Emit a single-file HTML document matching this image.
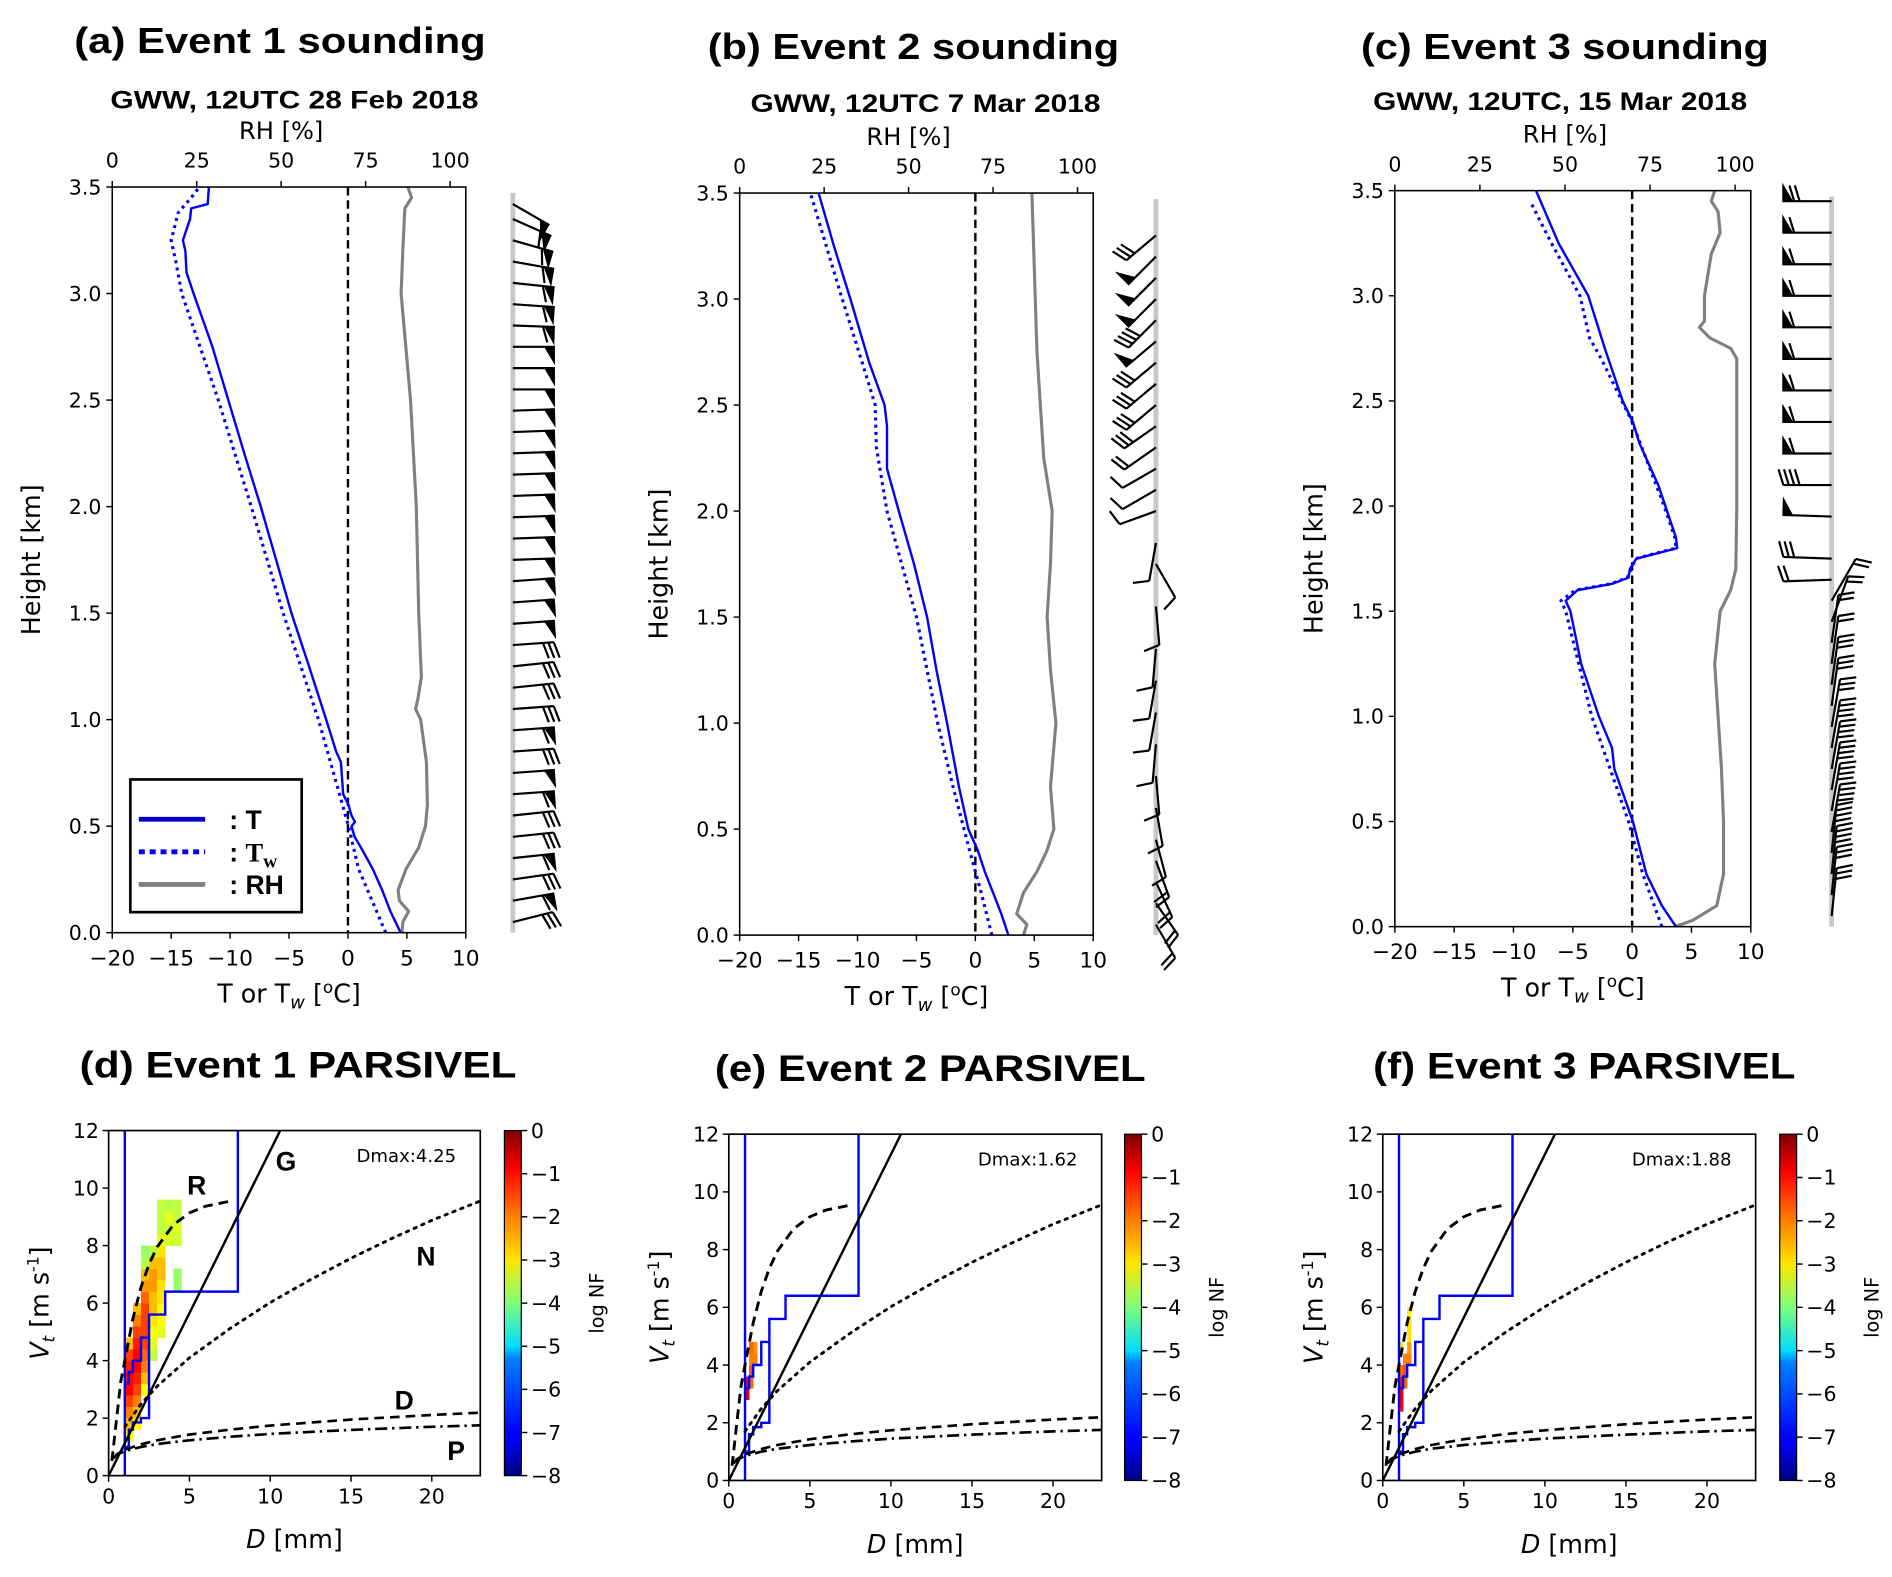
<!DOCTYPE html>
<html><head><meta charset="utf-8"><style>
html,body{margin:0;padding:0;background:#fff;}
svg{display:block;}
text{font-family:"DejaVu Sans","Liberation Sans",sans-serif;fill:#000;}
.ttl{font-family:"Liberation Sans",Arial,sans-serif;font-weight:bold;}
</style></head>
<body>
<svg id="chart" xmlns="http://www.w3.org/2000/svg" width="1892" height="1577" viewBox="0 0 1568 1307">
<defs>
<linearGradient id="jet" x1="0" y1="1" x2="0" y2="0">
<stop offset="0" stop-color="#00007f"/><stop offset="0.11" stop-color="#0000ff"/><stop offset="0.125" stop-color="#0000ff"/>
<stop offset="0.34" stop-color="#0080ff"/><stop offset="0.375" stop-color="#00dcff"/><stop offset="0.5" stop-color="#7dff7a"/>
<stop offset="0.625" stop-color="#ffe600"/><stop offset="0.75" stop-color="#ff8000"/><stop offset="0.89" stop-color="#ff0000"/><stop offset="1" stop-color="#7f0000"/>
</linearGradient>
</defs>
</svg>
<script>
// ---------- Sounding data (a) ----------
const aT_h=[0,0.1,0.2,0.3,0.4,0.45,0.5,0.52,0.55,0.6,0.65,0.8,0.85,1.0,1.25,1.5,1.75,2.0,2.25,2.5,2.75,3.0,3.1,3.2,3.25,3.3,3.35,3.4,3.42,3.5];
const aT=[4.47,3.6,2.9,2.1,1.1,0.56,0.3,0.6,0.3,0.05,-0.4,-0.6,-1.0,-1.85,-3.3,-4.8,-6.1,-7.4,-8.8,-10.15,-11.5,-13.1,-13.7,-13.8,-14.0,-13.7,-13.4,-13.3,-11.9,-11.8];
const aTw_h=[0,0.3,0.5,1.0,1.5,2.0,2.5,3.0,3.15,3.25,3.38,3.45,3.5];
const aTw=[3.2,0.9,0.05,-2.5,-5.5,-8.2,-11.0,-14.1,-14.6,-15.0,-14.4,-13.3,-12.6];
const aRH_h=[0,0.05,0.1,0.15,0.2,0.3,0.4,0.5,0.6,0.8,1.0,1.05,1.1,1.2,1.5,2.0,2.5,3.0,3.2,3.4,3.45,3.5];
const aRH=[85.8,86,87.7,85,84.6,87,90.7,92.7,93.3,93,91.3,89.8,90.5,91.5,90.7,90,88.3,85.5,86,86.6,88.6,87.5];
// ---------- Sounding data (b) ----------
const bT_h=[0,0.1,0.2,0.3,0.4,0.5,0.7,1.0,1.25,1.5,1.75,2.0,2.2,2.4,2.5,2.7,3.0,3.25,3.5];
const bT=[2.8,2.2,1.5,0.8,0.2,-0.6,-1.4,-2.4,-3.3,-4.1,-5.2,-6.5,-7.5,-7.5,-7.7,-9.0,-10.6,-12.0,-13.3];
const bTw_h=[0,0.2,0.4,0.7,1.0,1.5,2.0,2.3,2.5,2.7,3.0,3.5];
const bTw=[1.4,0.5,-0.5,-1.9,-3.2,-5.0,-7.5,-8.4,-8.5,-9.6,-11.3,-14.0];
const bRH_h=[0,0.05,0.1,0.2,0.3,0.4,0.5,0.7,1.0,1.25,1.5,1.75,2.0,2.25,2.5,2.75,3.0,3.25,3.5];
const bRH=[84,85,82,84,88,91,93,92,93.6,92,91,92,92.5,90,89,88,87.5,87,86.5];
// ---------- Sounding data (c) ----------
const cT_h=[0,0.1,0.25,0.5,0.75,0.85,1.0,1.1,1.25,1.5,1.55,1.6,1.63,1.66,1.7,1.75,1.78,1.8,1.85,2.0,2.1,2.2,2.3,2.4,2.5,2.75,3.0,3.25,3.5];
const cT=[3.7,2.5,1.2,0.06,-1.5,-1.7,-2.8,-3.4,-4.3,-5.2,-5.6,-4.6,-1.7,-0.3,-0.2,0.35,2.4,3.8,3.7,2.8,2.2,1.4,0.6,0.06,-0.8,-2.3,-3.7,-6.2,-8.1];
const cTw_h=[0,0.25,0.5,1.0,1.5,1.55,1.6,1.63,1.66,1.75,1.78,1.8,1.85,2.0,2.4,2.7,2.8,3.0,3.25,3.45];
const cTw=[2.5,0.9,-0.3,-3.4,-5.6,-6.0,-4.8,-1.8,-0.4,0.3,2.3,3.7,3.6,2.7,0,-2.6,-3.6,-4.4,-6.8,-8.6];
const cRH_h=[0,0.03,0.1,0.25,0.5,0.75,1.0,1.25,1.5,1.6,1.7,2.0,2.7,2.75,2.8,2.85,2.88,3.0,3.2,3.3,3.4,3.45,3.5];
const cRH=[82.4,87.5,94.6,96.6,96.6,96,95,94,95.6,98.7,100.2,100.5,100.5,98.7,92.6,89.5,91,91,93,95.6,95,93,94];
// ---------- Wind barbs (height km, staff angle deg, flags, full barbs) ----------
const aBarbH=[0.05,0.15,0.25,0.35,0.45,0.55,0.65,0.75,0.85,0.95,1.05,1.15,1.25,1.35,1.45,1.55,1.65,1.75,1.85,1.95,2.05,2.15,2.25,2.35,2.45,2.55,2.65,2.75,2.85,2.95,3.05,3.15,3.25,3.35,3.42];
const aBarbA=[-14,-10,-8,-6,-6,-6,-4,-4,-4,-4,-4,-6,-6,-4,-4,-4,-4,-2,-2,-2,-2,-2,-2,-2,-2,0,0,0,2,4,6,10,16,24,30];
const aBarbF=[0,1,0,1,0,0,1,1,0,1,0,0,0,0,1,1,1,1,1,1,1,1,1,1,1,1,1,1,1,1,1,1,1,1,1];
const aBarbB=[3,1,3,1,3,3,1,0,3,1,3,3,3,3,0,0,0,0,0,0,0,0,0,0,0,0,0,0,1,1,1,1,1,1,0];
const bBarbH=[0.05,0.15,0.25,0.35,0.45,0.6,0.75,0.9,1.05,1.2,1.35,1.55,1.75,1.85,2.0,2.1,2.2,2.3,2.4,2.5,2.6,2.7,2.8,2.9,3.0,3.1,3.2,3.3];
const bBarbA=[60,55,65,70,75,80,85,95,100,100,95,85,60,100,160,150,150,145,145,140,140,140,140,135,135,135,135,140];
const bBarbF=[0,0,0,0,0,0,0,0,0,0,0,0,0,0,0,0,0,0,0,0,0,0,1,0,1,1,1,0];
const bBarbB=[2,2,2,2,1,1,1,1,1,1,1,1,1,1,1,1,1,2,3,3,3,3,0,4,0,0,0,3];
const cBarbH=[0.05,0.15,0.25,0.35,0.45,0.55,0.65,0.75,0.85,0.95,1.05,1.15,1.25,1.35,1.45,1.55,1.65,1.75,1.95,2.1,2.25,2.4,2.55,2.7,2.85,3.0,3.15,3.3,3.45];
const cBarbA=[-84,-84,-84,-84,-80,-80,-80,-80,-80,-80,-82,-82,-82,-82,-70,-60,178,182,182,180,180,180,180,180,180,180,180,180,180];
const cBarbF=[0,0,0,0,0,0,0,0,0,0,0,0,0,0,0,0,0,0,1,0,1,1,1,1,1,1,1,1,1];
const cBarbB=[3,3,4,4,4,4,4,4,4,3,3,3,2,2,2,2,2,3,0,4,1,1,1,1,1,1,1,1,2];
// ---------- PARSIVEL reference curves (D mm, Vt m/s) ----------
const gD=[0,10.62], gV=[0,12];
const rD=[0.2,0.5,0.75,1,1.5,2,2.5,3,4,5,6,7.5], rV=[0.51,2.02,3.26,4.0,5.46,6.55,7.35,7.95,8.72,9.14,9.37,9.54];
const nD=[1,2,3,5,7.5,10,12.5,15,17.5,20,23], nV=[1.7,2.49,3.11,4.1,5.11,6.02,6.82,7.56,8.24,8.88,9.55];
const dD=[0.3,0.5,1,2,3,5,7.5,10,15,20,23], dV=[0.6,0.74,0.9,1.09,1.23,1.43,1.6,1.74,1.95,2.11,2.19];
const pD=[0.3,0.5,1,2,3,5,7.5,10,15,20,23], pV=[0.6,0.72,0.85,1.0,1.1,1.23,1.35,1.45,1.59,1.7,1.75];
const boxUpD=[8,8,3.5,3.5,2.5,2.5,2.0,2.0,1.5,1.5,1.25,1.25,1.0], boxUpV=[12,6.4,6.4,5.6,5.6,4.8,4.8,4.0,4.0,3.6,3.6,3.2,3.2];
const boxLoD=[1.0,1.25,1.25,1.5,1.5,2.0,2.0,2.5,2.5], boxLoV=[1.0,1.0,1.6,1.6,1.85,1.85,2.0,2.0,4.8];
// ---------- PARSIVEL cells (left D, bottom Vt, log NF) ----------
const dCellD=[1,1,1,1,1,1,1,1,1, 1.5,1.5,1.5,1.5,1.5,1.5,1.5,1.5,1.5,1.5,1.5, 2,2,2,2,2,2,2,2,2,2,2,2,2, 2.5,2.5,2.5,2.5,2.5,2.5,2.5,2.5,2.5,2.5, 3,3,3,3,3,3,3,3,3,3,3,3, 3.5,3.5,3.5,3.5, 4,4,4,4,4,4];
const dCellV=[1.2,1.6,2.0,2.4,2.8,3.2,3.6,4.0,4.4, 1.6,2.0,2.4,2.8,3.2,3.6,4.0,4.4,4.8,5.2,5.6, 2.8,3.2,3.6,4.0,4.4,4.8,5.2,5.6,6.0,6.4,6.8,7.2,7.6, 4.0,4.4,4.8,5.2,5.6,6.0,6.4,6.8,7.2,7.6, 4.8,5.2,5.6,6.0,6.4,6.8,7.2,7.6,8.0,8.4,8.8,9.2, 8.0,8.4,8.8,9.2, 6.4,6.8,8.0,8.4,8.8,9.2];
const dCellZ=[-3,-2.5,-2,-1.5,-1,-1,-1.2,-1.5,-2.5, -3,-2.5,-2,-1.5,-1.2,-1,-1,-1.2,-1.5,-2,-2.5, -3,-2.5,-2,-1.8,-1.5,-1.5,-1.5,-1.5,-1.8,-2.2,-2.5,-3.6,-3.8, -3.5,-3.2,-3,-2.8,-2.5,-2.5,-2.2,-2.2,-2.5,-3.5, -3.2,-3,-3,-2.8,-2.8,-2.5,-2.5,-2.8,-3.2,-3.5,-3.5,-3.5, -3.3,-3.4,-3.2,-3.6, -3.8,-3.8,-3.4,-3.3,-3.5,-3.5];
const eCellD=[1.0,1.0,1.25,1.25,1.25,1.5,1.5,1.25];
const eCellV=[2.8,3.2,3.2,3.6,4.0,4.0,4.4,4.4];
const eCellZ=[-0.8,-1.0,-1.8,-1.6,-2.0,-2.0,-2.2,-1.8];
const fCellD=[1.0,1.0,1.0,1.0,1.25,1.25,1.25,1.5,1.5,1.5,1.5,1.5,1.0];
const fCellV=[2.4,2.8,3.2,3.6,3.2,3.6,4.0,4.0,4.4,4.8,5.2,5.6,4.4];
const fCellZ=[-1.0,-0.9,-1.2,-1.8,-1.8,-1.6,-2.0,-2.0,-2.2,-2.8,-2.8,-2.9,-2.8];
const tTicks=[-20,-15,-10,-5,0,5,10];
const rhTicks=[0,25,50,75,100];
const hTicks=[0,0.5,1.0,1.5,2.0,2.5,3.0,3.5];
const dTicks=[0,5,10,15,20];
const vTicks=[0,2,4,6,8,10,12];
const cbTicks=[0,-1,-2,-3,-4,-5,-6,-7,-8];

const NS="http://www.w3.org/2000/svg";
const svg=document.getElementById('chart');
function mk(tag,attrs,parent){const e=document.createElementNS(NS,tag);for(const k in attrs)e.setAttribute(k,attrs[k]);(parent||svg).appendChild(e);return e;}
function fmt(v,d){const s=Math.abs(v).toFixed(d);return (v<0?"\u2212":"")+s;}
function txt(x,y,s,size,anchor,cls,name,extra){
  const t=mk('text',Object.assign({x:x,y:y,'font-size':size,'text-anchor':anchor||'middle'},extra||{}));
  if(cls)t.setAttribute('class',cls);
  t.textContent=s;
  
  
  return t;
}
function jet(z){ // z in [-8,0]
  const v=(z+8)/8;
  const r=Math.max(0,Math.min(1,Math.min(4*v-1.5,-4*v+4.5)));
  const g=Math.max(0,Math.min(1,Math.min(4*v-0.5,-4*v+3.5)));
  const b=Math.max(0,Math.min(1,Math.min(4*v+0.5,-4*v+2.5)));
  return `rgb(${Math.round(r*255)},${Math.round(g*255)},${Math.round(b*255)})`;
}

function sounding(p){
  const xT=t=>p.L+(t+20)/30*(p.R-p.L);
  const xRH=r=>p.L+r/100*(p.rhR-p.L);
  const yH=h=>p.B-h/3.5*(p.B-p.T);
  const g=mk('g',{});
  
  
  txt(p.tx,p.ty,p.title,30,'middle','ttl',p.id+'-title',{textLength:p.tw,lengthAdjust:'spacingAndGlyphs'});
  txt(p.sx,p.sy,p.sub,21,'middle','ttl',p.id+'-subtitle',{textLength:p.sw,lengthAdjust:'spacingAndGlyphs'});
  txt((p.L+p.rhR)/2,p.T-40,'RH [%]',20,'middle','',p.id+'-rh-axis-title');
  const clip=mk('clipPath',{id:'clip'+p.id});
  mk('rect',{x:p.L,y:p.T,width:p.R-p.L,height:p.B-p.T},clip);
  // 0 line
  const z=mk('line',{x1:xT(0),x2:xT(0),y1:p.T,y2:p.B,stroke:'#000','stroke-width':2,'stroke-dasharray':'7 4'},g);
  
  
  const line=(hs,vs,fx,attrs,name)=>{
    const d=hs.map((h,i)=>(i?'L':'M')+fx(vs[i]).toFixed(1)+','+yH(h).toFixed(1)).join('');
    const e=mk('path',Object.assign({d:d,fill:'none','clip-path':'url(#clip'+p.id+')','stroke-linejoin':'round'},attrs),g);
    
    
  };
  line(p.rhH,p.rh,xRH,{stroke:'#808080','stroke-width':2.6},'rh-line');
  line(p.twH,p.tw2,xT,{stroke:'#0000ff','stroke-width':2.6,'stroke-dasharray':'2.5 3.5'},'wet-bulb-temperature-line');
  line(p.tH,p.t,xT,{stroke:'#0000ff','stroke-width':2},'temperature-line');
  const fr=mk('rect',{x:p.L,y:p.T,width:p.R-p.L,height:p.B-p.T,fill:'none',stroke:'#000','stroke-width':1.3},g);
  
  
  tTicks.forEach(t=>{
    const tk=mk('line',{x1:xT(t),x2:xT(t),y1:p.B,y2:p.B+5,stroke:'#000','stroke-width':1.2},g);
    
    
    txt(xT(t),p.B+27,fmt(t,0),18,'middle','','x-tick-label');
  });
  rhTicks.forEach(r=>{
    const tk=mk('line',{x1:xRH(r),x2:xRH(r),y1:p.T,y2:p.T-5,stroke:'#000','stroke-width':1.2},g);
    
    
    txt(xRH(r),p.T-16,String(r),17,'middle','','rh-tick-label');
  });
  hTicks.forEach(h=>{
    const tk=mk('line',{x1:p.L-5,x2:p.L,y1:yH(h),y2:yH(h),stroke:'#000','stroke-width':1.2},g);
    
    
    txt(p.L-9,yH(h)+6,h.toFixed(1),17,'end','','y-tick-label');
  });
  const xl=txt((p.L+p.R)/2,p.B+58,'',21,'middle','',p.id+'-x-axis-title');
  xl.innerHTML='T or T<tspan font-style="italic" font-size="15" dy="5">w</tspan><tspan dy="-5"> [</tspan><tspan font-size="14" dy="-8">o</tspan><tspan dy="8">C]</tspan>';
  txt(0,0,'Height [km]',21,'middle','',p.id+'-y-axis-title',{transform:`translate(${p.L-60},${(p.T+p.B)/2}) rotate(-90)`});
  // barbs
  const bg=mk('g',{},g);
  
  
  const gl=mk('line',{x1:p.bx,x2:p.bx,y1:p.T+5,y2:p.B,stroke:'#c8c8c8','stroke-width':4},bg);
  
  
  p.bH.forEach((h,i)=>{
    const a=p.bA[i]*Math.PI/180, L=p.bL;
    const x0=p.bx,y0=yH(h),ux=Math.cos(a),uy=Math.sin(a);
    const x1=x0+L*ux,y1=y0+L*uy;
    const nx=-uy*p.side,ny=ux*p.side;
    let d=`M${x0},${y0}L${x1},${y1}`;
    let pos=0;
    const fl=p.bF[i], nb=p.bB[i];
    let poly='';
    for(let k=0;k<fl;k++){
      const ax=x1-ux*pos,ay=y1-uy*pos,bx=x1-ux*(pos+7),by=y1-uy*(pos+7);
      poly+=`M${ax},${ay}L${ax+nx*12},${ay+ny*12}L${bx},${by}Z`;
      pos+=9;
    }
    for(let k=0;k<nb;k++){
      const ax=x1-ux*pos,ay=y1-uy*pos;
      d+=`M${ax},${ay}L${ax+nx*13+ux*4},${ay+ny*13+uy*4}`;
      pos+=4.5;
    }
    const s=mk('path',{d:d+poly,stroke:'#000','stroke-width':1.8,fill:'#000'},bg);
    
    
  });
}

sounding({id:'a',L:93,R:386,T:155,B:773,rhR:373,bx:425,title:'(a) Event 1 sounding',tx:232,ty:44,tw:341,sub:'GWW, 12UTC 28 Feb 2018',sx:244,sy:90,sw:305,
  tH:aT_h,t:aT,twH:aTw_h,tw2:aTw,rhH:aRH_h,rh:aRH,bH:aBarbH,bA:aBarbA,bF:aBarbF,bB:aBarbB,bL:34,side:1});
sounding({id:'b',L:613,R:906,T:160,B:775,rhR:893,bx:958,title:'(b) Event 2 sounding',tx:757,ty:49,tw:341,sub:'GWW, 12UTC 7 Mar 2018',sx:767,sy:93,sw:290,
  tH:bT_h,t:bT,twH:bTw_h,tw2:bTw,rhH:bRH_h,rh:bRH,bH:bBarbH,bA:bBarbA,bF:bBarbF,bB:bBarbB,bL:32,side:1});
sounding({id:'c',L:1156,R:1451,T:158,B:768,rhR:1438,bx:1518,title:'(c) Event 3 sounding',tx:1297,ty:49,tw:338,sub:'GWW, 12UTC, 15 Mar 2018',sx:1293,sy:91,sw:310,
  tH:cT_h,t:cT,twH:cTw_h,tw2:cTw,rhH:cRH_h,rh:cRH,bH:cBarbH,bA:cBarbA,bF:cBarbF,bB:cBarbB,bL:40,side:1});

// legend for (a)
(function(){
  const lg=mk('g',{});
  
  
  const r=mk('rect',{x:108,y:646,width:142,height:110,fill:'#fff',stroke:'#000','stroke-width':2.2},lg);
  
  
  const e1=mk('line',{x1:115,x2:170,y1:679,y2:679,stroke:'#0000cc','stroke-width':4},lg);
  
  
  const e2=mk('line',{x1:115,x2:170,y1:706,y2:706,stroke:'#0000ff','stroke-width':4,'stroke-dasharray':'5 4'},lg);
  
  
  const e3=mk('line',{x1:115,x2:170,y1:733,y2:733,stroke:'#808080','stroke-width':4},lg);
  
  
  txt(190,687,': T',22,'start','ttl','legend-label-t');
  const t2=txt(190,714,'',22,'start','ttl','legend-label-tw');
  t2.innerHTML=': <tspan font-family="Liberation Serif,serif">T</tspan><tspan font-family="Liberation Serif,serif" font-size="16" dy="5">w</tspan>';
  txt(190,741,': RH',22,'start','ttl','legend-label-rh');
})();

function parsivel(p){
  const xD=d=>p.L+d/23*(p.R-p.L);
  const yV=v=>p.B-v/12*(p.B-p.T);
  const g=mk('g',{});
  
  
  txt(p.tx,p.ty,p.title,31,'middle','ttl',p.id+'-title',{textLength:p.tw,lengthAdjust:'spacingAndGlyphs'});
  const clip=mk('clipPath',{id:'clip'+p.id});
  mk('rect',{x:p.L,y:p.T,width:p.R-p.L,height:p.B-p.T},clip);
  const cg=mk('g',{'clip-path':'url(#clip'+p.id+')'},g);
  p.cD.forEach((d,i)=>{
    const w=(i<p.cD.length&&p.cw)||0.25;
    const c=mk('rect',{x:xD(d),y:yV(p.cV[i]+0.4),width:xD(d+w)-xD(d)+0.3,height:yV(p.cV[i])-yV(p.cV[i]+0.4)+0.3,fill:jet(p.cZ[i])},cg);
    
    
  });
  const path=(ds,vs,attrs,name)=>{
    const d=ds.map((x,i)=>(i?'L':'M')+xD(x).toFixed(1)+','+yV(vs[i]).toFixed(1)).join('');
    const e=mk('path',Object.assign({d:d,fill:'none',stroke:'#000','stroke-width':2},attrs),cg);
    
    
  };
  const v1=mk('line',{x1:xD(1),x2:xD(1),y1:yV(0),y2:yV(12),stroke:'#0000ff','stroke-width':2},cg);
  
  
  path(boxUpD,boxUpV,{stroke:'#0000ff'},'rain-band-upper-boundary');
  path(boxLoD,boxLoV,{stroke:'#0000ff'},'rain-band-lower-boundary');
  path(gD,gV,{},'graupel-curve');
  path(rD,rV,{'stroke-dasharray':'8 5','stroke-width':2.4},'rain-curve');
  path(nD,nV,{'stroke-dasharray':'2 5','stroke-width':2.4,'stroke-linecap':'round'},'needle-curve');
  path(dD,dV,{'stroke-dasharray':'8 5','stroke-width':2.2},'dendrite-curve');
  path(pD,pV,{'stroke-dasharray':'10 4 2 4','stroke-width':2.2},'plate-curve');
  const fr=mk('rect',{x:p.L,y:p.T,width:p.R-p.L,height:p.B-p.T,fill:'none',stroke:'#000','stroke-width':1.4},g);
  
  
  dTicks.forEach(d=>{
    const tk=mk('line',{x1:xD(d),x2:xD(d),y1:p.B,y2:p.B+5,stroke:'#000','stroke-width':1.2},g);
    
    
    txt(xD(d),p.B+23,String(d),17,'middle','','x-tick-label');
  });
  vTicks.forEach(v=>{
    const tk=mk('line',{x1:p.L-5,x2:p.L,y1:yV(v),y2:yV(v),stroke:'#000','stroke-width':1.2},g);
    
    
    txt(p.L-8,yV(v)+6,String(v),17,'end','','y-tick-label');
  });
  const xl=txt((p.L+p.R)/2,p.B+60,'',21,'middle','',p.id+'-x-axis-title');
  xl.innerHTML='<tspan font-style="italic">D</tspan> [mm]';
  const yl=txt(0,0,'',21,'middle','',p.id+'-y-axis-title',{transform:`translate(${p.L-50},${(p.T+p.B)/2}) rotate(-90)`});
  yl.innerHTML='<tspan font-style="italic">V</tspan><tspan font-style="italic" font-size="14" dy="5">t</tspan><tspan dy="-5"> [m s</tspan><tspan font-size="13" dy="-8">-1</tspan><tspan dy="8">]</tspan>';
  txt(p.R-20,p.T+26,p.dmax,15,'end','',p.id+'-dmax-label');
  // colorbar
  const cb=mk('rect',{x:p.cbx,y:p.T,width:14,height:p.B-p.T,fill:'url(#jet)',stroke:'#000','stroke-width':1},g);
  
  
  cbTicks.forEach(v=>{
    const y=p.B-(v+8)/8*(p.B-p.T);
    const tk=mk('line',{x1:p.cbx+14,x2:p.cbx+19,y1:y,y2:y,stroke:'#000','stroke-width':1.2},g);
    
    
    txt(p.cbx+22,y+6,fmt(v,0),17,'start','','colorbar-tick-label');
  });
  txt(0,0,'log NF',16,'middle','',p.id+'-colorbar-title',{transform:`translate(${p.cbx+82},${(p.T+p.B)/2}) rotate(-90)`});
  if(p.labels){
    [['G',237,970],['R',163,990],['N',353,1049],['D',335,1168],['P',378,1210]].forEach(l=>txt(l[1],l[2],l[0],22,'middle','ttl','curve-label-'+l[0].toLowerCase()));
  }
}
parsivel({id:'d',L:90,R:398,T:937,B:1223,cbx:418,title:'(d) Event 1 PARSIVEL',tx:247,ty:893,tw:362,dmax:'Dmax:4.25',cD:dCellD,cV:dCellV,cZ:dCellZ,cw:0.5,labels:true});
parsivel({id:'e',L:604,R:913,T:940,B:1227,cbx:932,title:'(e) Event 2 PARSIVEL',tx:771,ty:896,tw:357,dmax:'Dmax:1.62',cD:eCellD,cV:eCellV,cZ:eCellZ,cw:0.25,labels:false});
parsivel({id:'f',L:1146,R:1455,T:940,B:1227,cbx:1475,title:'(f) Event 3 PARSIVEL',tx:1313,ty:894,tw:350,dmax:'Dmax:1.88',cD:fCellD,cV:fCellV,cZ:fCellZ,cw:0.25,labels:false});
</script>
</body></html>
